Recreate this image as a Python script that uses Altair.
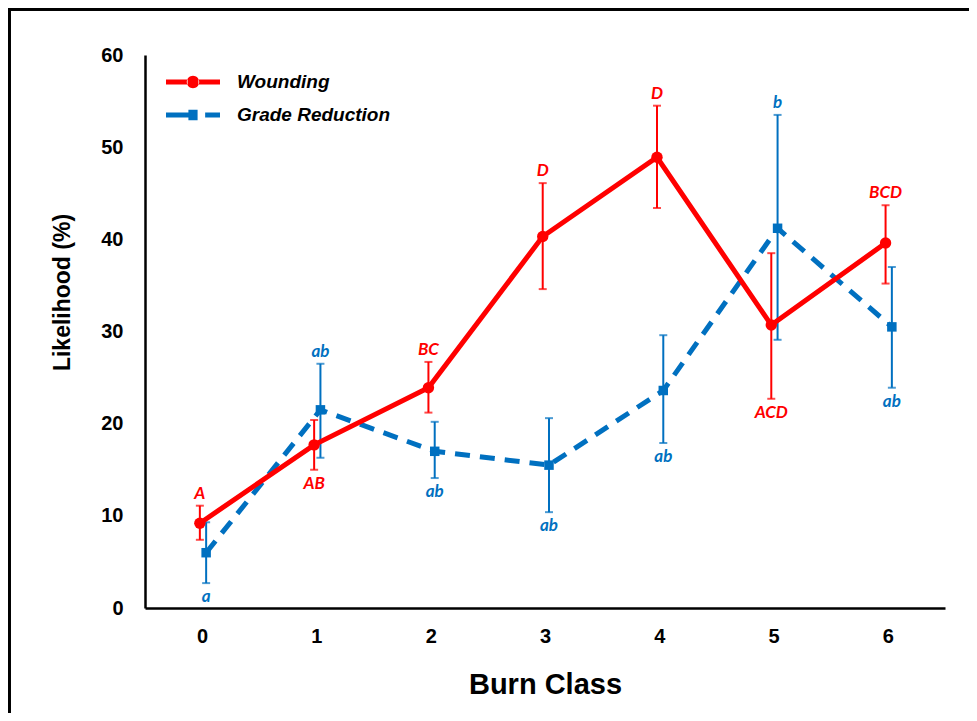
import altair as alt
import pandas as pd

# ---- data ----
classes = [0, 1, 2, 3, 4, 5, 6]

wound = [9.2, 17.7, 23.9, 40.3, 48.9, 30.7, 39.6]
wound_hi = [11.1, 20.4, 26.7, 46.1, 54.5, 38.5, 43.7]
wound_lo = [7.4, 15.0, 21.2, 34.6, 43.4, 22.7, 35.2]
wound_letters = ["A", "AB", "BC", "D", "D", "ACD", "BCD"]
wound_pos = ["above", "below", "above", "above", "above", "below", "above"]

grade = [6.0, 21.5, 17.0, 15.5, 23.6, 41.2, 30.5]
grade_hi = [9.3, 26.5, 20.2, 20.6, 29.6, 53.5, 37.0]
grade_lo = [2.7, 16.3, 14.1, 10.4, 17.9, 29.1, 23.9]
grade_letters = ["a", "ab", "ab", "ab", "ab", "b", "ab"]
grade_pos = ["below", "above", "below", "below", "below", "above", "below"]

series_names = ["Wounding", "Grade Reduction"]
series_colors = ["#FF0000", "#0070C0"]

rows = []
for i, c in enumerate(classes):
    rows.append(dict(series="Wounding", cls=c, val=wound[i], hi=wound_hi[i], lo=wound_lo[i],
                     letter=wound_letters[i], pos=wound_pos[i]))
for i, c in enumerate(classes):
    rows.append(dict(series="Grade Reduction", cls=c, val=grade[i], hi=grade_hi[i], lo=grade_lo[i],
                     letter=grade_letters[i], pos=grade_pos[i]))
df = pd.DataFrame(rows)

FONT = "Liberation Sans"
LETTER_FONT = "Lato"

base = alt.Chart(df).transform_calculate(
    xp="datum.cls + (datum.series == 'Wounding' ? -0.02 : 0.035)"
)

xscale = alt.Scale(domain=[-0.5, 6.5], nice=False, zero=False)
yscale = alt.Scale(domain=[0, 60], nice=False)

xaxis = alt.Axis(values=classes, title="Burn Class", titleFont=FONT, titleFontSize=29,
                 titleFontWeight="bold", titleColor="black", titleY=85,
                 titleBaseline="alphabetic", labelFont=FONT, labelFontSize=20,
                 labelFontWeight="bold", labelColor="black", labelPadding=18,
                 labelAngle=0, format="d", grid=False, ticks=False,
                 domainColor="black", domainWidth=2.5)
yaxis = alt.Axis(values=[0, 10, 20, 30, 40, 50, 60], title="Likelihood (%)", titleFont=FONT,
                 titleFontSize=23, titleFontWeight="bold", titleColor="black",
                 titleX=-83, titleY=237, titleAngle=270, titleAlign="center",
                 titleBaseline="middle", labelFont=FONT, labelFontSize=20,
                 labelFontWeight="bold", labelColor="black", labelPadding=22,
                 grid=False, ticks=False, domainColor="black", domainWidth=2.5)

X = alt.X("xp:Q", scale=xscale, axis=xaxis)


def series_layers(name, color, line_kwargs, pt_shape, pt_size):
    b = base.transform_filter(alt.datum.series == name)
    rule = b.mark_rule(color=color, strokeWidth=2).encode(
        x=X, y=alt.Y("lo:Q", scale=yscale, axis=yaxis), y2="hi:Q")
    cap_hi = b.mark_tick(color=color, orient="horizontal", size=8, thickness=2).encode(
        x=X, y=alt.Y("hi:Q", scale=yscale, axis=yaxis))
    cap_lo = b.mark_tick(color=color, orient="horizontal", size=8, thickness=2).encode(
        x=X, y=alt.Y("lo:Q", scale=yscale, axis=yaxis))
    line = b.mark_line(color=color, strokeWidth=5, **line_kwargs).encode(
        x=X, y=alt.Y("val:Q", scale=yscale, axis=yaxis), order="cls:Q")
    pts = b.mark_point(color=color, filled=True, opacity=1, shape=pt_shape, size=pt_size).encode(
        x=X, y=alt.Y("val:Q", scale=yscale, axis=yaxis))
    txt_above = b.transform_filter(alt.datum.pos == "above").mark_text(
        color=color, font=LETTER_FONT, fontSize=17, fontWeight="bold", fontStyle="italic",
        baseline="alphabetic", align="center", dy=-7).encode(
        x=X, y=alt.Y("hi:Q", scale=yscale, axis=yaxis), text="letter:N")
    txt_below = b.transform_filter(alt.datum.pos == "below").mark_text(
        color=color, font=LETTER_FONT, fontSize=17, fontWeight="bold", fontStyle="italic",
        baseline="alphabetic", align="center", dy=19).encode(
        x=X, y=alt.Y("lo:Q", scale=yscale, axis=yaxis), text="letter:N")
    return [rule, cap_hi, cap_lo, line, pts, txt_above, txt_below]


blue_layers = series_layers("Grade Reduction", "#0070C0", {"strokeDash": [15, 10]}, "square", 90)
red_layers = series_layers("Wounding", "#FF0000", {}, "circle", 130)

# legend symbols: line with marker, as custom SVG paths
path_wound = ("M-1,-0.09 H-0.2 V0.09 H-1 Z M0.2,-0.09 H1 V0.09 H0.2 Z "
              "M-0.23,0 A0.23,0.23 0 1,0 0.23,0 A0.23,0.23 0 1,0 -0.23,0 Z")
path_grade = ("M-1,-0.09 H-0.17 V0.09 H-1 Z M-0.17,-0.19 H0.17 V0.19 H-0.17 Z "
              "M0.45,-0.09 H1 V0.09 H0.45 Z")

legend_kw = dict(orient="none", legendX=21, legendY=17, title=None, padding=0,
                 symbolSize=2916, symbolStrokeWidth=0, symbolOpacity=1,
                 labelFont=FONT, labelFontSize=19, labelFontWeight="bold",
                 labelFontStyle="italic", labelColor="black", labelOffset=17,
                 clipHeight=20, rowPadding=13, labelLimit=300)

legend_layer = base.mark_point(filled=True, opacity=0).encode(
    x=X,
    y=alt.Y("val:Q", scale=yscale, axis=yaxis),
    color=alt.Color("series:N", scale=alt.Scale(domain=series_names, range=series_colors),
                    legend=alt.Legend(**legend_kw)),
    shape=alt.Shape("series:N", scale=alt.Scale(domain=series_names, range=[path_wound, path_grade]),
                    legend=alt.Legend(**legend_kw)),
)

# decorative outer frame (left and top edges, as in the reference figure)
frame_left = alt.Chart(df).mark_rule(color="black", strokeWidth=2.5).encode(
    x=alt.value(-136), y=alt.value(-46), y2=alt.value(658))
frame_top = alt.Chart(df).mark_rule(color="black", strokeWidth=2.5).encode(
    x=alt.value(-137), x2=alt.value(824), y=alt.value(-46))

chart = alt.layer(
    frame_left, frame_top, *blue_layers, *red_layers, legend_layer
).properties(
    width=800, height=553,
    padding={"left": 137, "top": 47, "right": 24, "bottom": 105},
    autosize=alt.AutoSizeParams(type="none"),
).configure(
    background="white"
).configure_view(
    stroke=None
).configure_axis(
    domainColor="black", domainWidth=2.5, ticks=False, grid=False
)

chart.save("out.html", embed_options={"renderer": "svg", "actions": False})
